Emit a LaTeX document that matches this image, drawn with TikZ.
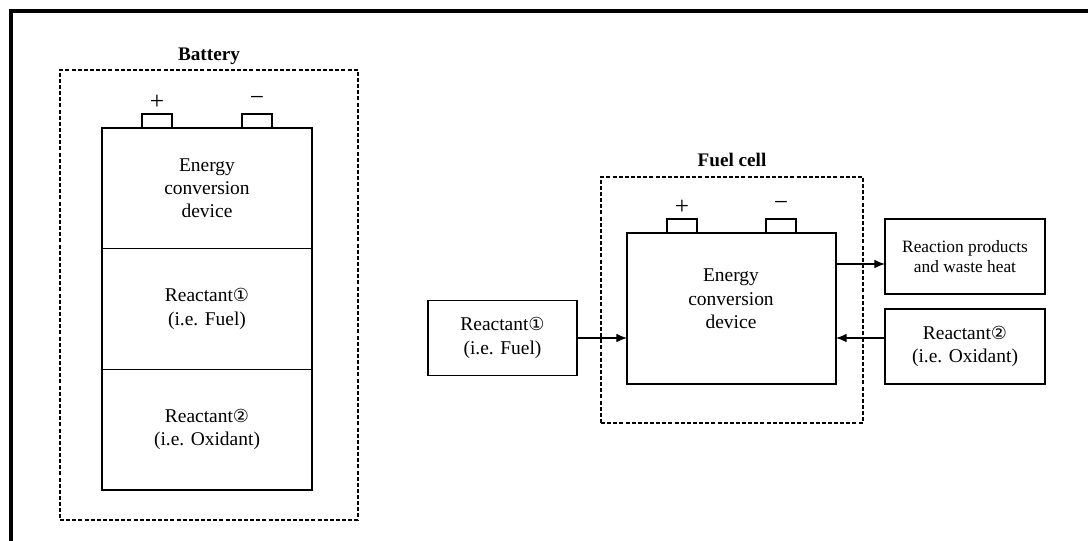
\documentclass[tikz,border=0pt]{standalone}
\usepackage{fontspec}
\setmainfont{Liberation Serif}
\newfontfamily\circfont{DejaVu Sans}
\usetikzlibrary{arrows.meta, positioning, calc}
\newcommand{\circOne}{{\circfont\fontsize{13.5}{13.5}\selectfont ①}}
\newcommand{\circTwo}{{\circfont\fontsize{13.5}{13.5}\selectfont ②}}
\tikzset{
  part/.style={draw, line width=1pt, outer sep=0pt, align=center,
    minimum width=157.5pt, minimum height=90.5pt},
  tab/.style={draw, line width=1pt, outer sep=0pt, inner sep=0pt,
    minimum width=22.5pt, minimum height=10.5pt},
  sign/.style={inner sep=0pt, font=\fontsize{19}{19}\selectfont},
  dashbox/.style={draw, line width=0.8pt, dash pattern=on 3pt off 1.6pt, inner sep=0pt},
  outbox/.style={draw, line width=1pt, outer sep=0pt, align=center,
    minimum width=111.75pt, minimum height=56.25pt},
  title/.style={font=\fontsize{14.4}{16}\selectfont\bfseries, inner sep=0pt},
  arr/.style={line width=0.9pt, -{Latex[length=8pt,width=6.5pt]}}
}

\begin{document}
\begin{tikzpicture}[x=0.75pt, y=-0.75pt, font=\fontsize{14.6}{17.5}\selectfont]
  \useasboundingbox (0,0) rectangle (1088,541);
  % frame
  \draw[line width=3pt] (1088,11.5) -- (10.5,11.5) -- (10.5,541);

  % battery
  \node[dashbox, minimum width=223.5pt, minimum height=337.5pt] (batFrame) at (209,295) {};
  \node[title, above=3.5pt of batFrame] (batTitle) {Battery};
  \node[part] (batEnergy) at (207,188.3) {Energy\\conversion\\device};
  \node[part, below=0pt of batEnergy] (batFuel) {Reactant\circOne\\(i.e. Fuel)};
  \node[part, below=0pt of batFuel] (batOx) {Reactant\circTwo\\(i.e. Oxidant)};
  \node[tab, above right=0pt and 30pt of batEnergy.north west] (batPlus) {};
  \node[tab, above left=0pt and 30pt of batEnergy.north east] (batMinus) {};
  \node[sign, above=3pt of batPlus] (batPlusSign) {+};
  \node[sign, above=6pt of batMinus] (batMinusSign) {−};

  % fuel cell
  \node[dashbox, minimum width=196.5pt, minimum height=184.5pt] (fcFrame) at (732,300) {};
  \node[title, above=7pt of fcFrame.north] (fcTitle) {Fuel cell};
  \node[part, minimum width=156.75pt, minimum height=113.25pt] (fcBody) at (731.5,308.5) {};
  \node[align=center] (fcText) at (731,299) {Energy\\conversion\\device};
  \node[tab, above right=0pt and 30pt of fcBody.north west] (fcPlus) {};
  \node[tab, above left=0pt and 30pt of fcBody.north east] (fcMinus) {};
  \node[sign, above=3pt of fcPlus] (fcPlusSign) {+};
  \node[sign, above=6pt of fcMinus] (fcMinusSign) {−};

  \node[outbox] (fcFuel) at (502.5,338) {Reactant\circOne\\(i.e. Fuel)};
  \node[outbox, minimum width=120pt, font=\fontsize{13}{15}\selectfont] (fcProd) at (965,256.5) {Reaction products\\and waste heat};
  \node[outbox, minimum width=120pt] (fcOx) at (965,346.5) {Reactant\circTwo\\(i.e. Oxidant)};

  \coordinate (fcOut) at ($(fcBody.north east)+(0,31)$);
  \draw[arr] (fcFuel.east) -- (fcFuel.east -| fcBody.west);
  \draw[arr] (fcOut) -- (fcOut -| fcProd.west);
  \draw[arr] (fcOx.west |- fcFuel.east) -- (fcBody.east |- fcFuel.east);
\end{tikzpicture}
\end{document}
